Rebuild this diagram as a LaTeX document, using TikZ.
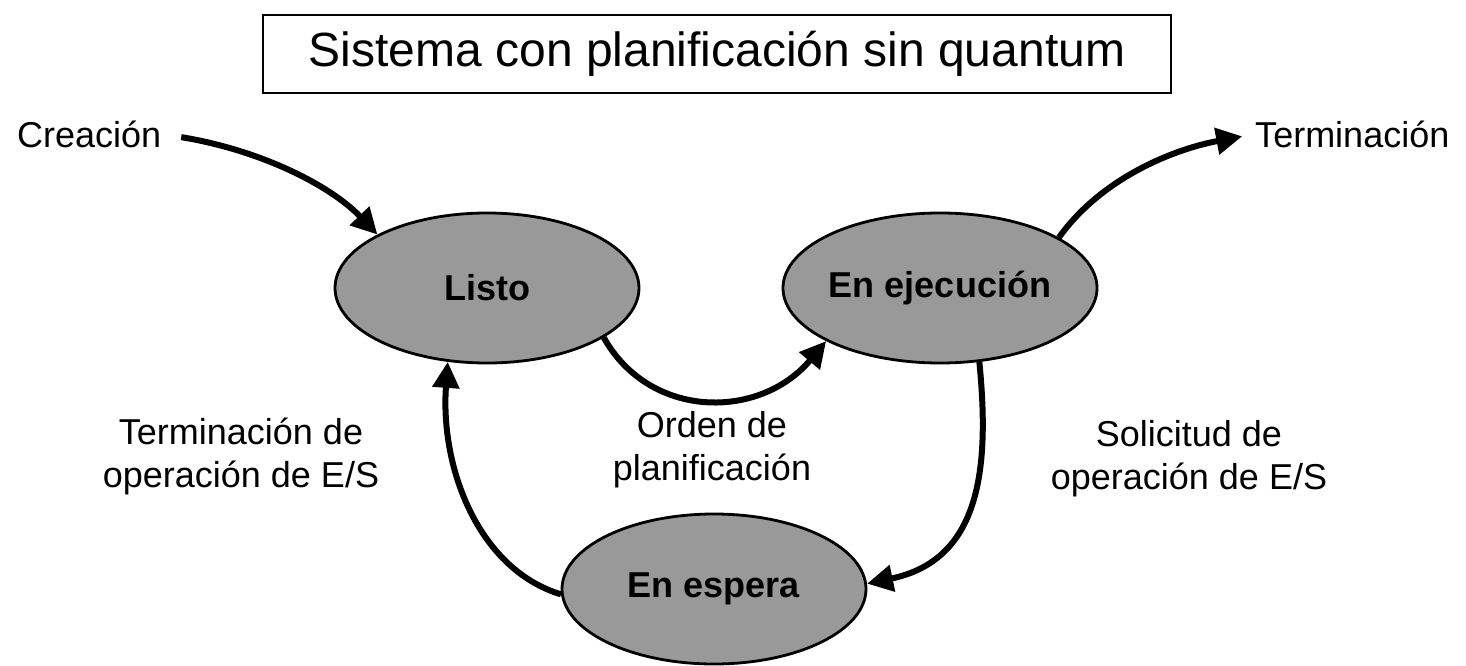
\documentclass[tikz,border=0pt]{standalone}
\usepackage{fontspec}
\setmainfont{Liberation Sans}
\usetikzlibrary{arrows.meta,shapes.geometric}
\definecolor{stategray}{HTML}{999999}
\tikzset{
  state/.style={ellipse, draw=black, line width=2.8pt, fill=stategray,
    minimum width=304pt, minimum height=150pt, inner sep=0pt,
    font=\fontsize{36}{43}\selectfont\bfseries},
  lbl/.style={inner sep=0pt, align=center, font=\fontsize{36}{43}\selectfont},
  conn/.style={line width=6pt, -{Triangle[length=26pt,width=26pt]}},
  titlebox/.style={draw=black, line width=2pt, minimum width=908pt,
    minimum height=78pt, inner sep=0pt, font=\fontsize{48}{56}\selectfont}
}
\begin{document}
\begin{tikzpicture}[x=1pt,y=-1pt]
\useasboundingbox (0,0) rectangle (1466,666);
\node[titlebox] (title) at (717,54) {Sistema con planificación sin quantum};
\node[state] (listo) at (487,288) {Listo};
\node[state] (ejec) at (940,288) {En ejecución};
\node[state] (espera) at (714,589) {En espera};
\node[lbl, anchor=base west] (creacion) at (17,147) {Creación};
\node[lbl, anchor=base west] (term) at (1255,147) {Terminación};
\node[lbl] (termes) at (241,456) {Terminación de\\operación de E/S};
\node[lbl] (orden) at (712,450) {Orden de\\planificación};
\node[lbl] (solic) at (1189,459) {Solicitud de\\operación de E/S};
\draw[conn, shorten <=20pt] (creacion.east) .. controls (260,150) and (330,185) .. (listo.154);
\draw[conn, shorten >=13pt] (ejec.23) .. controls (1100,180) and (1170,150) .. (term.west);
\draw[conn] (listo.-23) .. controls (650,420) and (760,420) .. (ejec.205);
\draw[conn] (ejec.-62) .. controls (990,470) and (980,560) .. (espera.2);
\draw[conn] (espera.182) .. controls (480,570) and (440,470) .. (listo.242);
\end{tikzpicture}
\end{document}
